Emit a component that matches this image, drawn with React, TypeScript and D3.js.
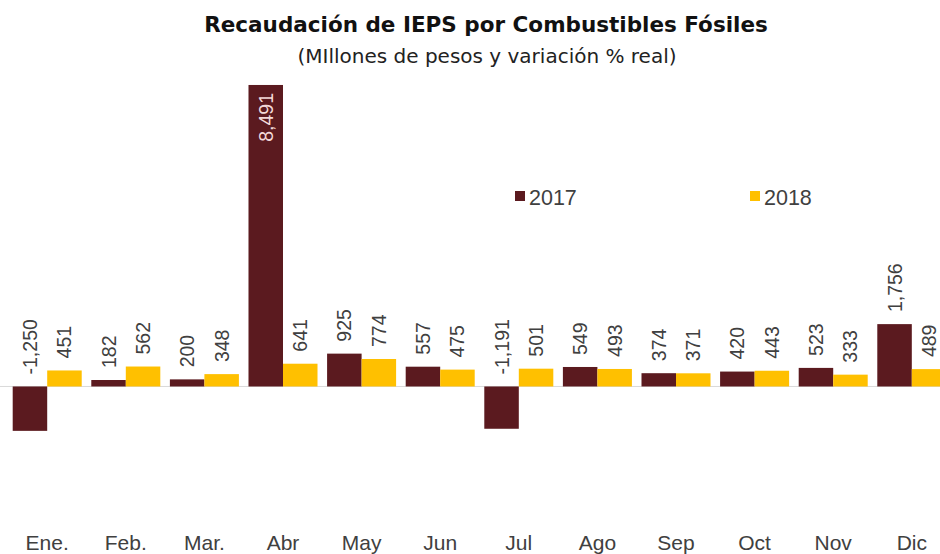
import React from "react";
import * as d3 from "d3";

const months = ["Ene.", "Feb.", "Mar.", "Abr", "May", "Jun", "Jul", "Ago", "Sep", "Oct", "Nov", "Dic"];
const series2017 = [-1250, 182, 200, 8491, 925, 557, -1191, 549, 374, 420, 523, 1756];
const series2018 = [451, 562, 348, 641, 774, 475, 501, 493, 371, 443, 333, 489];
const seriesNames = ["2017", "2018"];
const colors = ["#5B1A1F", "#FFC000"];

const W = 940;
const H = 554;
const FONT = "'Liberation Sans', Arial, sans-serif";
const WIDE = "'DejaVu Sans', sans-serif";

export default function App() {
  const x = d3.scaleBand<string>().domain(months).range([7.9, 951.1]).paddingInner(0.122).paddingOuter(0.061);
  const sub = d3.scaleBand<string>().domain(seriesNames).range([0, x.bandwidth()]);
  const y = d3.scaleLinear().domain([-3000, 9000]).range([493, 66.9]);
  const fmt = (v: number) => d3.format(",")(v).replace("\u2212", "-");
  const all = [series2017, series2018];
  const maxV = d3.max(series2017) as number;

  return (
    <svg width={W} height={H} style={{ position: "absolute", left: 0, top: 0, background: "#fff" }}>
      <text x={486} y={32} textAnchor="middle" fontFamily={WIDE} fontWeight="bold" fontSize={21.5} fill="#111">
        Recaudación de IEPS por Combustibles Fósiles
      </text>
      <text x={487} y={63} textAnchor="middle" fontFamily={WIDE} fontSize={20} fill="#222">
        (MIllones de pesos y variación % real)
      </text>
      <line x1={0} x2={W} y1={y(0)} y2={y(0)} stroke="#D9D9D9" strokeWidth={1} />
      {all.map((vals, si) =>
        vals.map((v, i) => {
          const bx = (x(months[i]) as number) + (sub(seriesNames[si]) as number);
          const bw = sub.bandwidth();
          const top = Math.min(y(v), y(0));
          const h = Math.abs(y(v) - y(0));
          return <rect key={`b${si}-${i}`} x={bx} y={top} width={bw} height={h} fill={colors[si]} />;
        })
      )}
      {all.map((vals, si) =>
        vals.map((v, i) => {
          const cx = (x(months[i]) as number) + (sub(seriesNames[si]) as number) + sub.bandwidth() / 2;
          const inside = v === maxV;
          const ty = inside ? y(v) + 8 : Math.min(y(v), y(0)) - 12;
          return (
            <text
              key={`l${si}-${i}`}
              transform={`translate(${cx},${ty}) rotate(-90)`}
              textAnchor={inside ? "end" : "start"}
              dominantBaseline="central"
              fontFamily={FONT}
              fontSize={19.5}
              fill={inside ? "#F3D9D9" : "#404040"}
            >
              {fmt(v)}
            </text>
          );
        })
      )}
      {months.map((m) => (
        <text
          key={m}
          x={(x(m) as number) + x.bandwidth() / 2}
          y={550}
          textAnchor="middle"
          fontFamily={FONT}
          fontSize={21}
          fill="#404040"
        >
          {m}
        </text>
      ))}
      {seriesNames.map((s, si) => {
        const lx = [515, 750][si];
        return (
          <g key={s}>
            <rect x={lx} y={191} width={10} height={10} fill={colors[si]} />
            <text x={lx + 14} y={205} fontFamily={FONT} fontSize={21.5} fill="#404040">
              {s}
            </text>
          </g>
        );
      })}
    </svg>
  );
}
